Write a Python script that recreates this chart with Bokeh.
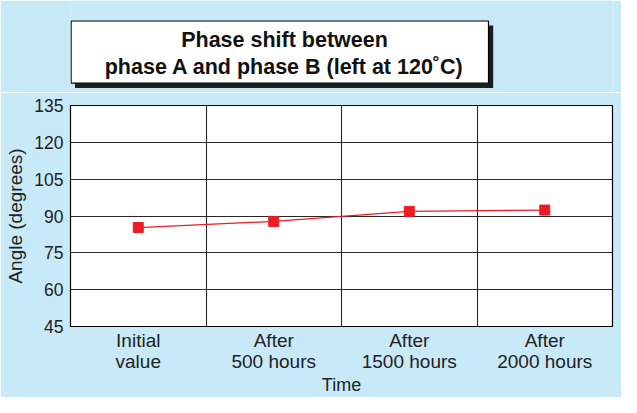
import numpy as np
from bokeh.plotting import figure
from bokeh.layouts import column
from bokeh.models import Range1d, FixedTicker
from bokeh.embed import file_html
from bokeh.resources import INLINE
from bokeh.core.properties import value

# ---- data ----
categories = ["Initial\nvalue", "After\n500 hours", "After\n1500 hours", "After\n2000 hours"]
angles = [85.3, 87.8, 91.9, 92.4]
y_ticks = [45, 60, 75, 90, 105, 120, 135]
title_lines = ["Phase shift between", "phase A and phase B (left at 120\u02daC)"]
x_label = "Time"
y_label = "Angle (degrees)"

BG = "#c8e9f8"
RED = "#ec1c24"
FONT = "Liberation Sans"

W = 621
FRAME_L, FRAME_R = 70, 612
TOP_H = 92

# ---- title panel (its frame is aligned with the main plot's frame) ----
t = figure(width=W, height=TOP_H, x_range=Range1d(FRAME_L, FRAME_R), y_range=Range1d(TOP_H, 0),
           toolbar_location=None, output_backend="svg",
           min_border_left=FRAME_L, min_border_right=W - FRAME_R, min_border_top=0, min_border_bottom=0)
t.axis.visible = False
t.grid.visible = False
t.outline_line_color = None
t.background_fill_color = BG
t.border_fill_color = BG
t.quad(left=[74.5], right=[492.7], top=[25], bottom=[87.5], fill_color="#1e1e1e", line_color=None)
t.quad(left=[70.6], right=[488], top=[20.5], bottom=[82.7], fill_color="white", line_color="black", line_width=1.2)
t.text(x=[284, 284], y=[39.3, 66], text=title_lines, text_align="center", text_baseline="alphabetic",
       text_font=value(FONT), text_font_style="bold", text_font_size="21.5px", text_color="#111111")

# ---- main plot ----
x = np.arange(len(categories)) + 0.5
p = figure(width=W, height=397 - TOP_H, x_range=Range1d(0, len(categories)),
           y_range=Range1d(y_ticks[0], y_ticks[-1]),
           toolbar_location=None, output_backend="svg",
           min_border_left=FRAME_L, min_border_right=W - FRAME_R, min_border_top=105 - TOP_H,
           min_border_bottom=71)
p.background_fill_color = "white"
p.border_fill_color = BG
p.outline_line_color = "black"
p.outline_line_width = 1.2

p.xgrid.ticker = FixedTicker(ticks=list(np.arange(1, len(categories))))
p.ygrid.ticker = FixedTicker(ticks=y_ticks)
for g in (p.xgrid[0], p.ygrid[0]):
    g.grid_line_color = "#262626"
    g.grid_line_width = 1.1

p.xaxis.ticker = FixedTicker(ticks=list(x))
p.xaxis.major_label_overrides = {float(xi): c for xi, c in zip(x, categories)}
p.yaxis.ticker = FixedTicker(ticks=y_ticks)

for ax in (p.xaxis[0], p.yaxis[0]):
    ax.axis_line_color = None
    ax.major_tick_line_color = None
    ax.minor_tick_line_color = None
    ax.major_tick_out = 0
    ax.major_tick_in = 0
    ax.minor_tick_out = 0
    ax.major_label_text_font = FONT
    ax.major_label_text_color = "#222222"
    ax.axis_label_text_font = FONT
    ax.axis_label_text_font_style = "normal"
    ax.axis_label_text_color = "#222222"

p.yaxis.major_label_text_font_size = "17.5px"
p.xaxis.major_label_text_font_size = "19px"
p.xaxis.major_label_text_line_height = 1.0
p.xaxis.axis_label_text_font_size = "18px"
p.yaxis.axis_label_text_font_size = "19px"
p.xaxis.axis_label = x_label
p.yaxis.axis_label = y_label
p.xaxis.major_label_standoff = 3
p.xaxis.axis_label_standoff = 0
p.yaxis.major_label_standoff = 7
p.yaxis.axis_label_standoff = 5

p.line(x, angles, line_color=RED, line_width=1.3)
p.scatter(x, angles, marker="square", size=10, fill_color=RED, line_color=RED)

layout = column(t, p, spacing=0)
open("out.html", "w").write(file_html(layout, INLINE))
